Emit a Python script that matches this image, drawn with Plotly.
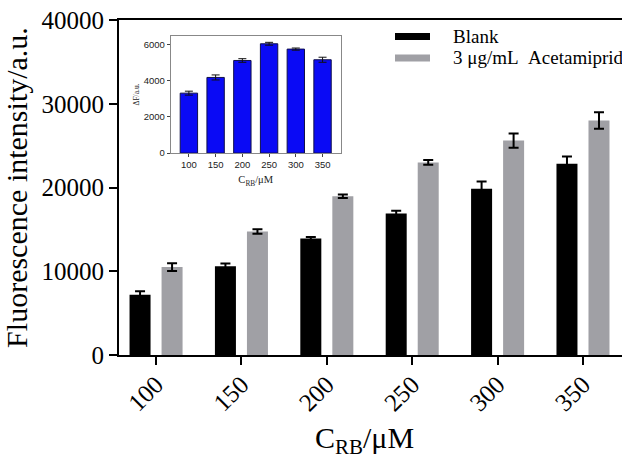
import plotly.graph_objects as go

categories = ["100", "150", "200", "250", "300", "350"]
blank = [7200, 10600, 13900, 16900, 19850, 22850]
blank_err = [420, 320, 200, 320, 880, 850]
acet = [10500, 14750, 18950, 23000, 25600, 28000]
acet_err = [470, 260, 200, 280, 860, 980]
delta = [3320, 4190, 5130, 6055, 5760, 5170]
delta_err = [110, 140, 100, 80, 60, 140]

SERIF = "Liberation Serif, Times New Roman, serif"
SANS = "Liberation Sans, Arial, sans-serif"

fig = go.Figure()
fig.add_trace(go.Bar(
    x=categories, y=blank, name="Blank", marker_color="#000000",
    marker_line_width=0,
    error_y=dict(type="data", array=blank_err, color="#000000", thickness=2, width=5),
    xaxis="x", yaxis="y", showlegend=False))
fig.add_trace(go.Bar(
    x=categories, y=acet, name="3 μg/mL  Acetamiprid", marker_color="#a0a0a5",
    marker_line_width=0,
    error_y=dict(type="data", array=acet_err, color="#000000", thickness=2, width=5),
    xaxis="x", yaxis="y", showlegend=False))
fig.add_trace(go.Bar(
    x=categories, y=delta, name="ΔF", marker_color="#0a0af5",
    marker_line=dict(color="#10104a", width=1), width=0.65,
    error_y=dict(type="data", array=delta_err, color="#111111", thickness=1, width=4),
    xaxis="x2", yaxis="y2", showlegend=False))

fig.update_layout(
    width=622, height=460,
    margin=dict(l=119, r=0, t=20, b=104.5),
    paper_bgcolor="white", plot_bgcolor="white",
    barmode="group", bargap=0.25, bargroupgap=0.344,
    xaxis=dict(
        domain=[0, 1], range=[-0.434, 5.457], type="category",
        showline=True, linecolor="#000000", linewidth=2, mirror=True,
        ticks="outside", ticklen=8, tickwidth=2, tickcolor="#000000",
        tickangle=-45, tickfont=dict(family=SERIF, size=25, color="#000000"),
        ticklabelstandoff=-5,
        showgrid=False, zeroline=False, automargin=False,
    ),
    yaxis=dict(
        domain=[0, 1], range=[0, 40000],
        tickvals=[0, 10000, 20000, 30000, 40000], tickformat="d",
        showline=True, linecolor="#000000", linewidth=2,
        ticks="outside", ticklen=8, tickwidth=2, tickcolor="#000000",
        tickfont=dict(family=SERIF, size=25, color="#000000"),
        showgrid=False, zeroline=False, automargin=False,
        title=dict(text="Fluorescence intensity/a.u.", font=dict(family=SERIF, size=30, color="#000000"), standoff=8),
    ),
    xaxis2=dict(
        domain=[0.1028, 0.4408], anchor="y2", range=[-0.68, 5.68], type="category",
        showline=True, linecolor="#888888", linewidth=1, mirror=True,
        ticks="outside", ticklen=3, tickwidth=1, tickcolor="#444444",
        tickfont=dict(family=SANS, size=9.5, color="#222222"),
        showgrid=False, zeroline=False, automargin=False,
        title=dict(text="C<sub>RB</sub>/μM", font=dict(family=SERIF, size=10.5, color="#222222"), standoff=6),
    ),
    yaxis2=dict(
        domain=[0.6027, 0.953], anchor="x2", range=[0, 6500],
        tickvals=[0, 2000, 4000, 6000], tickformat="d",
        showline=True, linecolor="#888888", linewidth=1, mirror=True,
        ticks="outside", ticklen=3, tickwidth=1, tickcolor="#444444",
        tickfont=dict(family=SANS, size=9.5, color="#222222"),
        showgrid=False, zeroline=False, automargin=False,
        title=dict(text="ΔF/a.u.", font=dict(family=SERIF, size=7.5, color="#222222"), standoff=3),
    ),
)

# Main x-axis title
fig.add_annotation(text="C<sub>RB</sub>/μM", xref="paper", yref="paper",
                   x=(364 - 119) / 503, y=(355.5 - 441) / 335.5,
                   xanchor="center", yanchor="middle", showarrow=False,
                   font=dict(family=SERIF, size=30, color="#000000"))

# Manual legend (swatches + labels)
legend_items = [("Blank", "#000000", 36.5), ("3 μg/mL\u00a0\u00a0Acetamiprid", "#a0a0a5", 58)]
for label, color, ypx in legend_items:
    fig.add_shape(type="rect", xref="paper", yref="paper",
                  x0=(395 - 119) / 503, x1=(430 - 119) / 503,
                  y0=(355.5 - (ypx + 3.5)) / 335.5, y1=(355.5 - (ypx - 3.5)) / 335.5,
                  fillcolor=color, line_width=0)
    fig.add_annotation(text=label, xref="paper", yref="paper",
                       x=(451 - 119) / 503, y=(355.5 - ypx) / 335.5,
                       xanchor="left", yanchor="middle", showarrow=False,
                       font=dict(family=SERIF, size=19, color="#000000"))

fig.write_html("out.html", config={"displayModeBar": False},
               post_script="document.body.style.margin='0';document.body.style.overflow='hidden';")
